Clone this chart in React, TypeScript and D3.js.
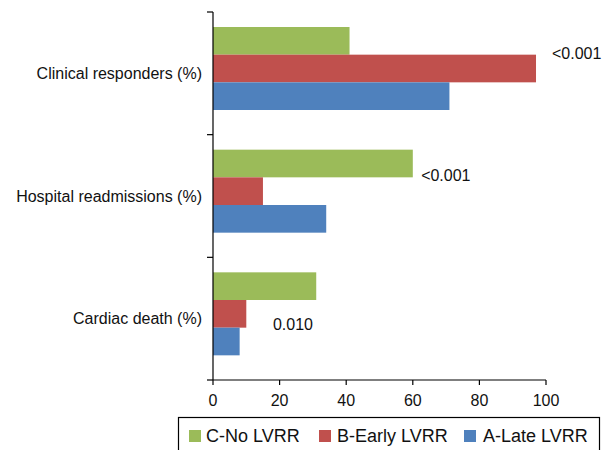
import React from "react";
import * as d3 from "d3";

const categories = ["Clinical responders (%)", "Hospital readmissions (%)", "Cardiac death (%)"];
const seriesNames = ["C-No LVRR", "B-Early LVRR", "A-Late LVRR"];
const seriesColors = ["#9BBB59", "#C0504D", "#4F81BD"];
const noLvrr = [41, 60, 31];
const earlyLvrr = [97, 15, 10];
const lateLvrr = [71, 34, 8];
const xTicks = [0, 20, 40, 60, 80, 100];
const pValues = ["<0.001", "<0.001", "0.010"];

// annotation placement (x in data units, dy in px from band top)
const pValueX = [101.8, 62.5, 18];
const pValueDy = [47, 46, 73];

const W = 609;
const H = 450;
const FONT = "'Liberation Sans', Arial, Helvetica, sans-serif";

export default function App() {
  const series = [noLvrr, earlyLvrr, lateLvrr];
  const x = d3.scaleLinear().domain([0, 100]).range([213, 546]);
  const y = d3.scaleBand<string>().domain(categories).range([12, 380]).padding(0);
  const inner = d3.scaleBand<string>().domain(seriesNames).range([15, 98]).padding(0);

  const legendItems = [
    { name: seriesNames[0], sq: 189, tx: 206 },
    { name: seriesNames[1], sq: 319, tx: 337 },
    { name: seriesNames[2], sq: 464, tx: 483 },
  ];

  return (
    <svg
      width={W}
      height={H}
      style={{ position: "absolute", left: 0, top: 0, background: "#fff" }}
      fontFamily={FONT}
    >
      {/* bars */}
      {categories.map((c, ci) => (
        <g key={c} transform={`translate(0,${y(c)})`}>
          {seriesNames.map((s, si) => (
            <rect
              key={s}
              x={x(0)}
              y={inner(s)}
              width={x(series[si][ci]) - x(0)}
              height={inner.bandwidth()}
              fill={seriesColors[si]}
            />
          ))}
        </g>
      ))}

      {/* y axis */}
      <line x1={x(0)} x2={x(0)} y1={12} y2={380} stroke="#000" strokeWidth={1.2} />
      {[...categories.map((c) => y(c) as number), 380].map((v, i) => (
        <line key={i} x1={x(0) - 6} x2={x(0)} y1={v} y2={v} stroke="#000" strokeWidth={1.2} />
      ))}
      {categories.map((c) => (
        <text
          key={c}
          x={202}
          y={(y(c) as number) + y.bandwidth() / 2 + 5.5}
          textAnchor="end"
          fontSize={16}
          fill="#111"
        >
          {c}
        </text>
      ))}

      {/* x axis */}
      <line x1={x(0)} x2={x(100)} y1={380} y2={380} stroke="#000" strokeWidth={1.2} />
      {xTicks.map((t) => (
        <g key={t}>
          <line x1={x(t)} x2={x(t)} y1={380} y2={385} stroke="#000" strokeWidth={1.2} />
          <text x={x(t)} y={406} textAnchor="middle" fontSize={16} fill="#111">
            {t}
          </text>
        </g>
      ))}

      {/* p-values */}
      {categories.map((c, ci) => (
        <text
          key={c}
          x={x(pValueX[ci])}
          y={(y(c) as number) + pValueDy[ci]}
          fontSize={16}
          fill="#111"
        >
          {pValues[ci]}
        </text>
      ))}

      {/* legend */}
      <rect x={178.5} y={417.5} width={421} height={40} fill="none" stroke="#000" strokeWidth={1.2} />
      {legendItems.map((it, i) => (
        <g key={it.name}>
          <rect x={it.sq} y={430} width={12} height={12} fill={seriesColors[i]} />
          <text x={it.tx} y={442} fontSize={18} fill="#111">
            {it.name}
          </text>
        </g>
      ))}
    </svg>
  );
}
